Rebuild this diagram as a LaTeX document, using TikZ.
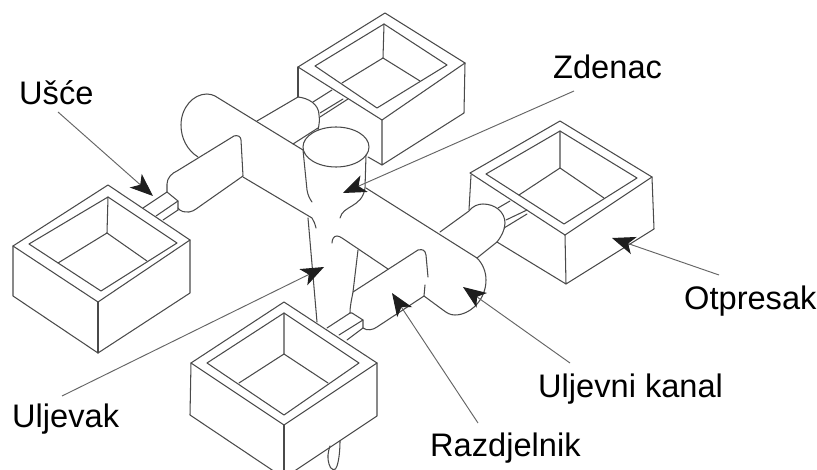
\documentclass[tikz,border=0pt]{standalone}
\usepackage{fontspec}
\setmainfont{Liberation Sans}
\usetikzlibrary{arrows.meta}
\definecolor{ink}{HTML}{4A4A4A}
\definecolor{headink}{HTML}{1E1E1E}
\tikzset{
  part/.style={draw=ink,line width=1.05pt,line join=round,line cap=round},
  pointer/.style={draw=ink!85,line width=0.95pt,-{Stealth[length=23pt,width=18pt,inset=6pt,color=headink]}},
  lbl/.style={anchor=base west,inner sep=0pt,text=black,font=\fontsize{32.6}{36}\selectfont}
}
\begin{document}
\begin{tikzpicture}[x=1pt,y=-1pt]
\useasboundingbox (0,0) rectangle (817,470);
\clip (0,0) rectangle (817,470);
% top box
\draw[part] (298,67) -- (385,13) -- (465,63) -- (382,120) -- cycle;
\draw[part] (315,66) -- (384,24) -- (447,65) -- (377,108) -- cycle;
\draw[part] (384,24) -- (383,58) -- (342,83);
\draw[part] (383,58) -- (420,81);
\draw[part] (382,120) -- (382,165) -- (464,113) -- (465,63);
\draw[part] (382,165) -- (368,157);
\draw[part] (298,67) -- (298,97);
% top gate and branch
\draw[part] (313,102) -- (332,90);
\draw[part] (320,113) -- (343,99);
\draw[part] (320,117) -- (348,99);
\draw[part] (257,121) -- (298,97) .. controls (308,98) and (319,104) .. (319,115) .. controls (320,120) and (319,125) .. (318,130);
\draw[part] (293,144) -- (318,128);
% sprue cup
\draw[part] (336,147) ellipse [x radius=33,y radius=20];
\draw[part] (303,150) -- (307,190) .. controls (308,196) and (310,199) .. (312,202);
\draw[part] (366,155) -- (365,188) .. controls (362,208) and (343,205) .. (340,218);
% main runner
\draw[part] (198,157) .. controls (187,150) and (181,138) .. (181,125) .. controls (181,108) and (193,94) .. (207,94) .. controls (210,94) and (213,95) .. (215,96) -- (303,150);
\draw[part] (366,188) -- (477,258) .. controls (483,264) and (486,272) .. (486,280) .. controls (486,300) and (470,315) .. (455,315) .. controls (450,315) and (447,313) .. (443,310) -- (424,296);
\draw[part] (243,177) -- (312,218) .. controls (314,221) and (315,224) .. (316,228);
\draw[part] (308,218) -- (317,322);
% left branch
\draw[part] (178,208) .. controls (181,212) and (184,212) .. (189,212) .. controls (192,212) and (194,210) .. (196,209) -- (243,176) -- (241,140) .. controls (241,136) and (237,135) .. (234,136) -- (177,171) .. controls (172,173) and (167,178) .. (167,184) -- (167,192);
% left gate
\draw[part] (143,208) -- (167,192) -- (178,201) -- (178,210);
\draw[part] (156,216) -- (178,201);
\draw[part] (163,220) -- (178,210);
% left box
\draw[part] (13,246) -- (108,185) -- (190,240) -- (98,302) -- cycle;
\draw[part] (29,244) -- (108,197) -- (177,243) -- (101,291) -- cycle;
\draw[part] (108,197) -- (107,233) -- (58,263);
\draw[part] (107,233) -- (147,261);
\draw[part] (13,246) -- (13,296) -- (98,353) -- (190,293) -- (190,240);
\draw[part] (98,302) -- (98,353);
% centre, hook and right sprue side
\draw[part] (332,243) .. controls (332,239) and (334,236) .. (337,236) .. controls (339,236) and (340,237) .. (342,238) -- (388,269);
\draw[part] (358,250) -- (353,292);
% lower branch
\draw[part] (350,313) .. controls (350,305) and (352,298) .. (353,292) -- (418,250) .. controls (423,249) and (425,250) .. (426,255) -- (428,277);
\draw[part] (425,285) -- (424,296) -- (377,327) .. controls (373,330) and (367,331) .. (363,328);
% lower gate
\draw[part] (327,328) -- (350,313) -- (352,313) -- (363,320) -- (363,328);
\draw[part] (339,335) -- (363,320);
\draw[part] (347,340) -- (363,328);
% bottom box
\draw[part] (191,363) -- (284,302) -- (377,363) -- (284,425) -- cycle;
\draw[part] (207,363) -- (284,313) -- (359,363) -- (284,415) -- cycle;
\draw[part] (284,313) -- (284,354) -- (239,383);
\draw[part] (284,354) -- (328,383);
\draw[part] (191,363) -- (190,415) -- (284,478) -- (377,416) -- (377,363);
\draw[part] (284,425) -- (284,478);
% tail of the sprue
\draw[part] (330,446) .. controls (328,452) and (327,458) .. (329,464) .. controls (330,470) and (336,472) .. (337,466) .. controls (339,460) and (340,450) .. (340,441);
% right box
\draw[part] (470,173) -- (560,121) -- (652,177) -- (565,235) -- cycle;
\draw[part] (486,174) -- (560,131) -- (637,178) -- (564,224) -- cycle;
\draw[part] (560,131) -- (560,168) -- (519,195);
\draw[part] (560,168) -- (604,198);
\draw[part] (565,235) -- (566,284) -- (654,229) -- (652,177);
\draw[part] (566,284) -- (497,242);
\draw[part] (471,175) -- (469,210);
% right gate and branch
\draw[part] (498,208) -- (510,201);
\draw[part] (506,220) -- (527,210);
\draw[part] (504,228) -- (527,214);
\draw[part] (440,232) -- (469,211) .. controls (473,206) and (478,204) .. (483,204) .. controls (495,204) and (505,212) .. (505,223) .. controls (505,230) and (501,237) .. (497,242) -- (477,258);
% labels
\node[lbl] (usce) at (19,105) {Ušće};
\node[lbl] (zdenac) at (553,79) {Zdenac};
\node[lbl] (otpresak) at (684,310) {Otpresak};
\node[lbl] (kanal) at (538,398) {Uljevni kanal};
\node[lbl] (razdjelnik) at (430,456) {Razdjelnik};
\node[lbl] (uljevak) at (12,428) {Uljevak};
% pointers
\coordinate (uscefrom) at (58,112);    \coordinate (uscetip) at (153,196);
\coordinate (zdenacfrom) at (574,91);  \coordinate (zdenactip) at (343,193);
\coordinate (otpfrom) at (719,275);    \coordinate (otptip) at (612,238);
\coordinate (kanalfrom) at (570,363);  \coordinate (kanaltip) at (463,287);
\coordinate (razfrom) at (478,423);    \coordinate (raztip) at (392,293);
\coordinate (uljfrom) at (62,396);     \coordinate (ulitip) at (324,267);
\draw[pointer] (uscefrom) -- (uscetip);
\draw[pointer] (zdenacfrom) -- (zdenactip);
\draw[pointer] (otpfrom) -- (otptip);
\draw[pointer] (kanalfrom) -- (kanaltip);
\draw[pointer] (razfrom) -- (raztip);
\draw[pointer] (uljfrom) -- (ulitip);
\end{tikzpicture}
\end{document}
